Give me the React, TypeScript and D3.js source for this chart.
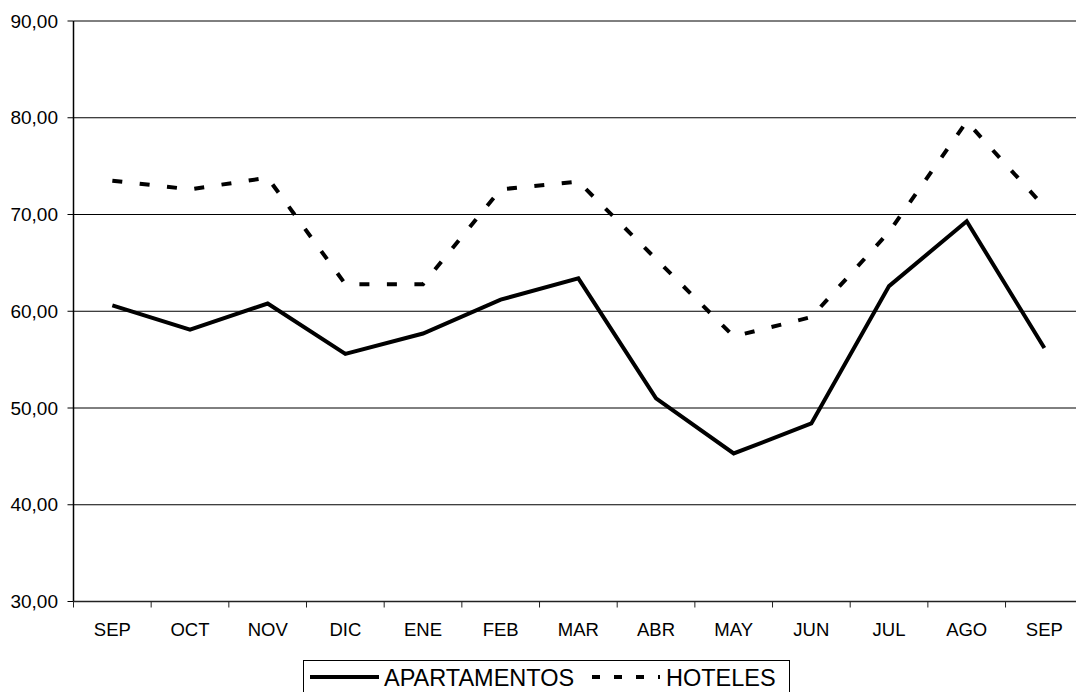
import React from 'react';
import * as d3 from 'd3';

const months = ['SEP', 'OCT', 'NOV', 'DIC', 'ENE', 'FEB', 'MAR', 'ABR', 'MAY', 'JUN', 'JUL', 'AGO', 'SEP'];
const apartamentos = [60.6, 58.1, 60.8, 55.6, 57.7, 61.2, 63.4, 51.0, 45.3, 48.4, 62.6, 69.3, 56.2];
const hoteles = [73.5, 72.6, 73.8, 62.8, 62.8, 72.6, 73.4, 65.4, 57.4, 59.4, 68.2, 79.6, 70.8];
const yTicks = [30, 40, 50, 60, 70, 80, 90];

const W = 1076;
const H = 692;
const left = 73.5;
const bandW = 77.67;
const top = 21;
const bottom = 601.5;
const font = "'Liberation Sans', Arial, sans-serif";

const App: React.FC = () => {
  const idx = months.map((_, i) => i);
  const x = d3.scaleBand<number>().domain(idx).range([left, left + bandW * months.length]).padding(0);
  const y = d3.scaleLinear().domain([30, 90]).range([bottom, top]);
  const cx = (i: number) => (x(i) as number) + x.bandwidth() / 2;

  const line = d3.line<number>()
    .x((_, i) => cx(i))
    .y(d => y(d));

  const right = left + bandW * months.length;

  return (
    <svg width={W} height={H} style={{ position: 'absolute', left: 0, top: 0, background: '#fff' }}>
      {/* gridlines */}
      {yTicks.filter(t => t > 30).map(t => (
        <line key={t} x1={left} x2={right} y1={y(t)} y2={y(t)} stroke="#000" strokeWidth={1} />
      ))}
      {/* y axis */}
      <line x1={left} x2={left} y1={top} y2={bottom} stroke="#000" strokeWidth={1.5} />
      {yTicks.map(t => (
        <g key={'yt' + t}>
          <line x1={left - 6} x2={left} y1={y(t)} y2={y(t)} stroke="#000" />
          <text x={58} y={y(t)} dy="0.35em" textAnchor="end" fontFamily={font} fontSize={19} fill="#000">
            {d3.format('.2f')(t).replace('.', ',')}
          </text>
        </g>
      ))}
      {/* x axis */}
      <line x1={left} x2={right} y1={bottom} y2={bottom} stroke="#222" strokeWidth={1.5} />
      {d3.range(months.length + 1).map(i => (
        <line key={'xt' + i} x1={left + i * bandW} x2={left + i * bandW} y1={bottom} y2={bottom + 6} stroke="#222" />
      ))}
      {months.map((m, i) => (
        <text key={'xl' + i} x={cx(i)} y={636} textAnchor="middle" fontFamily={font} fontSize={18.5} fill="#000">
          {m}
        </text>
      ))}
      {/* series */}
      <path d={line(hoteles) || ''} fill="none" stroke="#000" strokeWidth={4} strokeDasharray="10 17.5" />
      <path d={line(apartamentos) || ''} fill="none" stroke="#000" strokeWidth={4} strokeLinejoin="miter" />
      {/* legend */}
      <rect x={303.5} y={660.5} width={486} height={40} fill="#fff" stroke="#000" strokeWidth={1} />
      <line x1={310} x2={379} y1={677} y2={677} stroke="#000" strokeWidth={4} />
      <text x={384} y={686} fontFamily={font} fontSize={23.5} fill="#000">APARTAMENTOS</text>
      <line x1={592} x2={660} y1={677} y2={677} stroke="#000" strokeWidth={4} strokeDasharray="8 14" />
      <text x={666} y={686} fontFamily={font} fontSize={23.5} fill="#000">HOTELES</text>
    </svg>
  );
};

export default App;
